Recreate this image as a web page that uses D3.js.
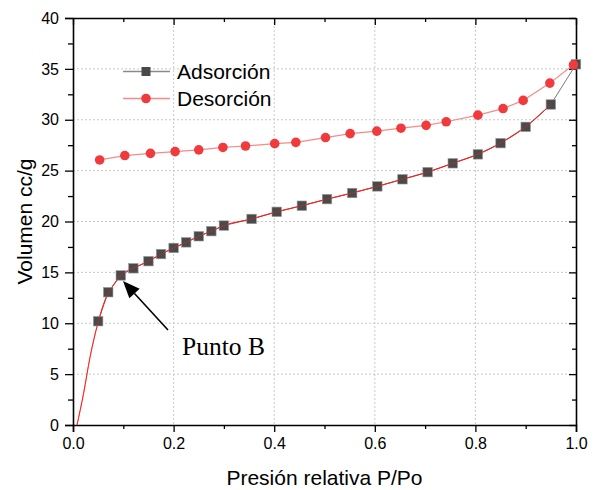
<!doctype html>
<html lang="es">
<head>
  <meta charset="utf-8">
  <title>Isoterma</title>
  <style>
    body { margin: 0; background: #fff; }
    text { font-family: "Liberation Sans", Arial, sans-serif; }
  </style>
</head>
<body>
<div id="chart"></div>

<script src="https://cdnjs.cloudflare.com/ajax/libs/d3/7.8.5/d3.min.js"></script>
<script>

// data
const adsX = [0.05, 0.07, 0.095, 0.12, 0.15, 0.175, 0.20, 0.225, 0.25, 0.275, 0.30, 0.355, 0.405, 0.455, 0.505, 0.555, 0.605, 0.655, 0.705, 0.755, 0.805, 0.85, 0.90, 0.95, 1.0]
const adsY = [10.2, 13.05, 14.7, 15.4, 16.1, 16.8, 17.4, 17.95, 18.55, 19.05, 19.6, 20.25, 20.95, 21.55, 22.2, 22.8, 23.45, 24.15, 24.85, 25.72, 26.6, 27.7, 29.3, 31.5, 35.45]

const desX = [0.053, 0.103, 0.154, 0.203, 0.25, 0.298, 0.343, 0.401, 0.443, 0.502, 0.551, 0.604, 0.652, 0.702, 0.742, 0.805, 0.855, 0.895, 0.948, 0.995]
const desY = [26.05, 26.48, 26.7, 26.87, 27.04, 27.28, 27.42, 27.65, 27.78, 28.25, 28.64, 28.88, 29.17, 29.45, 29.8, 30.45, 31.1, 31.9, 33.6, 35.4]

// red fitted curve over the adsorption branch
const fitX = [0.008, 0.021, 0.034, 0.05, 0.064, 0.081, 0.095, 0.12, 0.15, 0.175, 0.20, 0.225, 0.25, 0.275, 0.30, 0.355, 0.405, 0.455, 0.505, 0.555, 0.605, 0.655, 0.705, 0.755, 0.805, 0.85, 0.90, 0.95]
const fitY = [0, 3.1, 6.7, 10.1, 12.3, 13.8, 14.7, 15.4, 16.1, 16.8, 17.4, 17.95, 18.55, 19.05, 19.6, 20.25, 20.95, 21.55, 22.2, 22.8, 23.45, 24.15, 24.85, 25.72, 26.6, 27.7, 29.3, 31.5]

const xTicks = [0.0, 0.2, 0.4, 0.6, 0.8, 1.0]
const yTicks = [0, 5, 10, 15, 20, 25, 30, 35, 40]
const series = ["Adsorción", "Desorción"]

const W = 598, H = 490
const margin = { top: 18, right: 22, bottom: 65, left: 73 }
const w = W - margin.left - margin.right,
  h = H - margin.top - margin.bottom

const svg = d3.select("#chart").append("svg")
  .attr("width", W)
  .attr("height", H)

const g = svg.append("g")
  .attr("transform", "translate(" + margin.left + "," + margin.top + ")")

const x = d3.scaleLinear().domain([0, 1]).range([0, w])
const y = d3.scaleLinear().domain([0, 40]).range([h, 0])

// dotted grid
g.append("g").selectAll("line")
  .data(xTicks.slice(1, -1)).join("line")
    .attr("x1", d => x(d)).attr("x2", d => x(d))
    .attr("y1", 0).attr("y2", h)
    .attr("stroke", "#c8c8c8").attr("stroke-dasharray", "2,2")
g.append("g").selectAll("line")
  .data(yTicks.slice(1, -1)).join("line")
    .attr("y1", d => y(d)).attr("y2", d => y(d))
    .attr("x1", 0).attr("x2", w)
    .attr("stroke", "#c8c8c8").attr("stroke-dasharray", "2,2")

// axes
const xMinor = d3.range(0.1, 1, 0.2)
const yMinor = d3.range(2.5, 40, 5)

function styleAxis(sel) {
  sel.select(".domain").attr("stroke", "#000").attr("stroke-width", 1.6)
  sel.selectAll(".tick line").attr("stroke", "#000").attr("stroke-width", 1.3)
  sel.selectAll(".tick text").attr("fill", "#000").style("font-size", "16px")
    .style("font-family", "Liberation Sans, Arial, sans-serif")
}

function minorTicks(sel) {
  sel.select(".domain").remove()
  sel.selectAll("line").attr("stroke", "#000").attr("stroke-width", 1.3)
}

const xAxis = g.append("g").attr("transform", "translate(0," + h + ")")
  .call(d3.axisBottom(x).tickValues(xTicks).tickFormat(d3.format(".1f")).tickSizeOuter(0).tickSize(7).tickPadding(6))
styleAxis(xAxis)
g.append("g").attr("transform", "translate(0," + h + ")")
  .call(d3.axisBottom(x).tickValues(xMinor).tickFormat("").tickSize(4).tickSizeOuter(0))
  .call(minorTicks)

const yAxis = g.append("g")
  .call(d3.axisLeft(y).tickValues(yTicks).tickSizeOuter(0).tickSize(8).tickPadding(6))
styleAxis(yAxis)
g.append("g")
  .call(d3.axisLeft(y).tickValues(yMinor).tickFormat("").tickSize(5).tickSizeOuter(0))
  .call(minorTicks)

// top and right: ticks pointing inward, no labels
const topAxis = g.append("g")
  .call(d3.axisBottom(x).tickValues(xTicks).tickFormat("").tickSize(7).tickSizeOuter(0))
styleAxis(topAxis)
g.append("g")
  .call(d3.axisBottom(x).tickValues(xMinor).tickFormat("").tickSize(4).tickSizeOuter(0))
  .call(minorTicks)

const rightAxis = g.append("g").attr("transform", "translate(" + w + ",0)")
  .call(d3.axisLeft(y).tickValues(yTicks).tickFormat("").tickSize(7).tickSizeOuter(0))
styleAxis(rightAxis)
g.append("g").attr("transform", "translate(" + w + ",0)")
  .call(d3.axisLeft(y).tickValues(yMinor).tickFormat("").tickSize(4).tickSizeOuter(0))
  .call(minorTicks)

// lines
const ads = adsX.map((d, i) => [d, adsY[i]])
const des = desX.map((d, i) => [d, desY[i]])
const fit = fitX.map((d, i) => [d, fitY[i]])

const line = d3.line().x(d => x(d[0])).y(d => y(d[1]))
const smooth = d3.line().x(d => x(d[0])).y(d => y(d[1])).curve(d3.curveMonotoneX)

g.append("path").datum(ads)
  .attr("d", line).attr("fill", "none")
  .attr("stroke", "#7a7a7a").attr("stroke-width", 1)

g.append("path").datum(fit)
  .attr("d", smooth).attr("fill", "none")
  .attr("stroke", "#ff1a1a").attr("stroke-width", 1)

g.append("path").datum(des)
  .attr("d", line).attr("fill", "none")
  .attr("stroke", "#f58a8a").attr("stroke-width", 1.2)

// markers
const sq = 9.5
g.append("g").selectAll("rect")
  .data(ads).join("rect")
    .attr("x", d => x(d[0]) - sq / 2)
    .attr("y", d => y(d[1]) - sq / 2)
    .attr("width", sq).attr("height", sq)
    .attr("fill", "#4a4a4a").attr("stroke", "#9a9a9a").attr("stroke-width", 0.6)

// the fit runs over the squares in the picture
g.append("path").datum(fit)
  .attr("d", smooth).attr("fill", "none")
  .attr("stroke", "#ff1a1a").attr("stroke-width", 0.8).attr("opacity", 0.55)

g.append("g").selectAll("circle")
  .data(des).join("circle")
    .attr("cx", d => x(d[0]))
    .attr("cy", d => y(d[1]))
    .attr("r", 4.8)
    .attr("fill", "#f03a3e")

// legend
const leg = g.append("g").attr("transform", "translate(50,0)")
series.forEach((s, i) => {
  const ly = 53.5 + i * 27
  leg.append("line")
    .attr("x1", 0).attr("x2", 47).attr("y1", ly).attr("y2", ly)
    .attr("stroke", i ? "#f58a8a" : "#8a8a8a").attr("stroke-width", 1.5)
  if (i) {
    leg.append("circle").attr("cx", 23).attr("cy", ly).attr("r", 4.8).attr("fill", "#f03a3e")
  } else {
    leg.append("rect").attr("x", 23 - 4.5).attr("y", ly - 4.5).attr("width", 9).attr("height", 9).attr("fill", "#4a4a4a")
  }
  leg.append("text")
    .attr("x", 54).attr("y", ly + 7.5)
    .style("font-size", "21px").attr("fill", "#000")
    .text(s)
})

// annotation arrow
const tip = [123, 281], tail = [168, 330]
const ang = Math.atan2(tip[1] - tail[1], tip[0] - tail[0])
const hl = 17, hw = 7
const base = [tip[0] - hl * Math.cos(ang), tip[1] - hl * Math.sin(ang)]
svg.append("line")
  .attr("x1", tail[0]).attr("y1", tail[1]).attr("x2", base[0]).attr("y2", base[1])
  .attr("stroke", "#000").attr("stroke-width", 1.6)
svg.append("path")
  .attr("d", "M" + tip + "L" + [base[0] + hw * Math.sin(ang), base[1] - hw * Math.cos(ang)] +
    "L" + [base[0] - hw * Math.sin(ang), base[1] + hw * Math.cos(ang)] + "Z")
  .attr("fill", "#000")

svg.append("text")
  .attr("x", 182).attr("y", 355)
  .style("font-family", "Liberation Serif, Times New Roman, serif")
  .style("font-size", "25.5px").attr("fill", "#000")
  .text("Punto B")

// axis titles
svg.append("text")
  .attr("x", margin.left + w / 2).attr("y", 485)
  .attr("text-anchor", "middle")
  .style("font-size", "21px")
  .text("Presión relativa P/Po")

svg.append("text")
  .attr("transform", "translate(32," + (margin.top + h / 2) + ") rotate(-90)")
  .attr("text-anchor", "middle")
  .style("font-size", "21px")
  .text("Volumen cc/g")

</script>
</body>
</html>
